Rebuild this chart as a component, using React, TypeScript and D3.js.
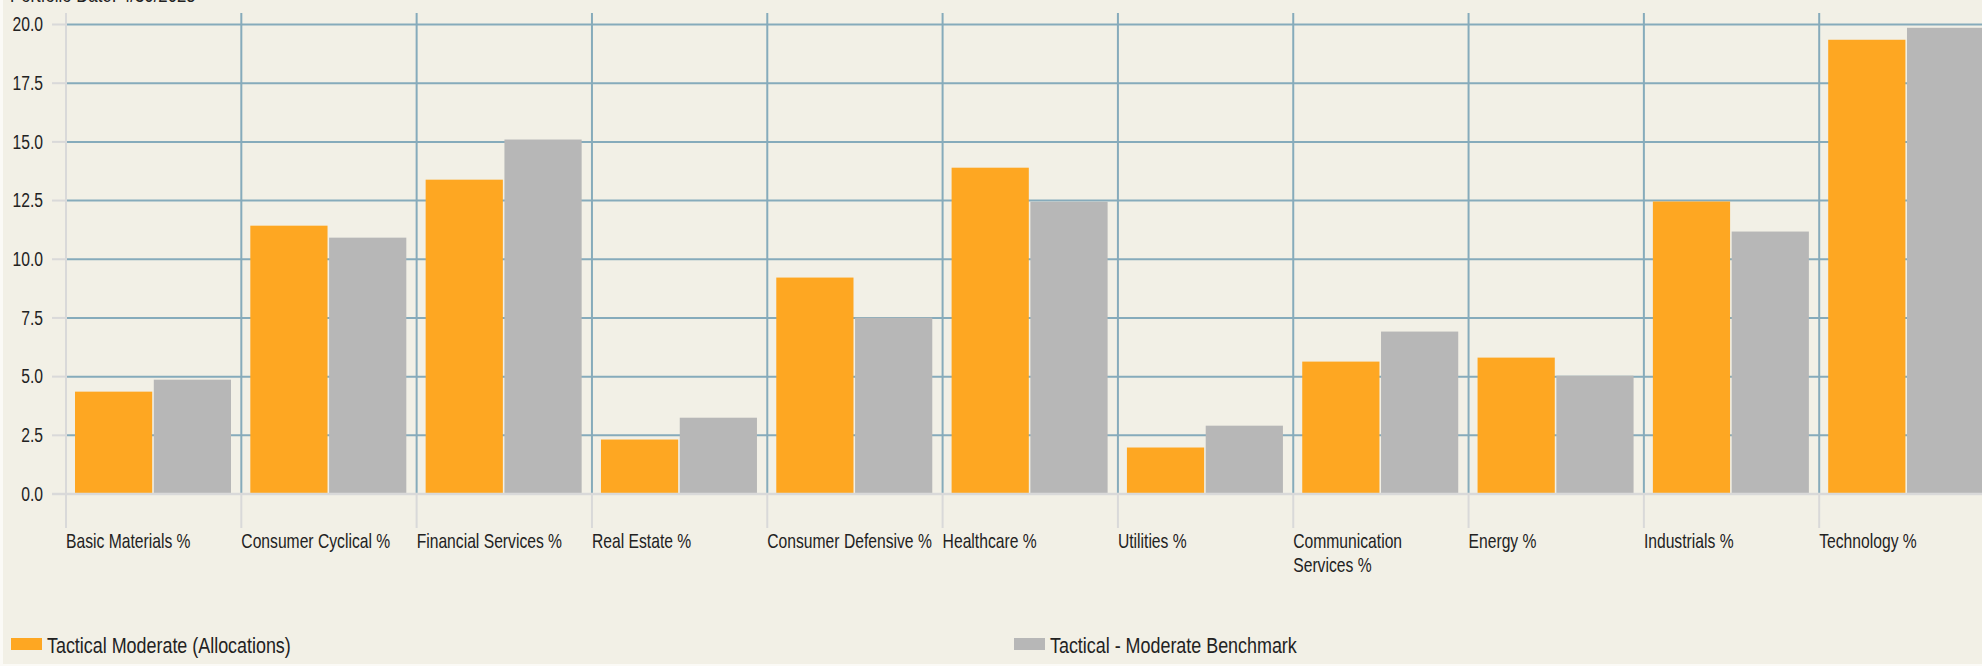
import React from "react";
import * as d3 from "d3";

const categories = [
  "Basic Materials %",
  "Consumer Cyclical %",
  "Financial Services %",
  "Real Estate %",
  "Consumer Defensive %",
  "Healthcare %",
  "Utilities %",
  "Communication Services %",
  "Energy %",
  "Industrials %",
  "Technology %",
];
const seriesNames = ["Tactical Moderate (Allocations)", "Tactical - Moderate Benchmark"];
const allocations = [4.36, 11.43, 13.39, 2.32, 9.22, 13.9, 1.98, 5.64, 5.81, 12.46, 19.35];
const benchmark = [4.87, 10.92, 15.1, 3.25, 7.51, 12.45, 2.91, 6.92, 5.04, 11.18, 19.86];
const yTicks = [0, 2.5, 5, 7.5, 10, 12.5, 15, 17.5, 20];
const subtitle = "Portfolio Date: 4/30/2025";

const W = 1982;
const H = 666;
const FONT = "'Liberation Sans', Arial, sans-serif";
const SX = 0.8;
const colors = ["#fea722", "#b7b7b7"];
const GRID = "#86abbb";
const AXIS = "#d9d9d9";
const BG = "#f2f0e6";
const TEXT = "#222222";

function NText(props: {
  x: number;
  y: number;
  size: number;
  anchor?: "start" | "end";
  children: React.ReactNode;
}) {
  return (
    <g transform={`translate(${props.x},${props.y}) scale(${SX},1)`}>
      <text x={0} y={0} dy="0.35em" fontSize={props.size} fill={TEXT} textAnchor={props.anchor || "start"}>
        {props.children}
      </text>
    </g>
  );
}

export default function App() {
  const x0 = d3.scaleBand<string>().domain(categories).range([66, 66 + 11 * 175.32]).padding(0);
  const x1 = d3.scaleBand<string>().domain(seriesNames).range([9, 165]).paddingInner(0.02);
  const y = d3.scaleLinear().domain([0, 20]).range([494, 24.5]);
  const values = [allocations, benchmark];
  const top = 13;
  const base = y(0);

  const wrap = (label: string): string[] =>
    label === "Communication Services %" ? ["Communication", "Services %"] : [label];

  return (
    <svg
      width={W}
      height={H}
      style={{ position: "absolute", left: 0, top: 0, display: "block" }}
      fontFamily={FONT}
    >
      <rect x={0} y={0} width={W} height={H} fill="#fbfaf6" />
      <rect x={3} y={0} width={W - 3} height={H - 2} fill={BG} />
      <g transform={`translate(10,2) scale(${SX},1)`}>
        <text x={0} y={0} fontSize={21} fill={TEXT}>{subtitle}</text>
      </g>

      {/* horizontal gridlines */}
      {yTicks.map((t) => (
        <g key={"h" + t}>
          <line x1={52} x2={66} y1={y(t)} y2={y(t)} stroke={AXIS} strokeWidth={2} />
          {t !== 0 && (
            <line x1={66} x2={W} y1={y(t)} y2={y(t)} stroke={GRID} strokeWidth={2} />
          )}
          <NText x={43} y={y(t)} size={19.6} anchor="end">
            {t.toFixed(1)}
          </NText>
        </g>
      ))}

      {/* vertical gridlines */}
      {categories.map((c, i) => {
        const xx = x0(c)!;
        return (
          <g key={"v" + c}>
            <line x1={xx} x2={xx} y1={top} y2={base} stroke={i === 0 ? AXIS : GRID} strokeWidth={2} />
            <line x1={xx} x2={xx} y1={base} y2={528} stroke={AXIS} strokeWidth={2} />
          </g>
        );
      })}

      {/* bars */}
      {categories.map((c, i) => (
        <g key={"b" + c} transform={`translate(${x0(c)},0)`}>
          {seriesNames.map((s, si) => (
            <rect
              key={s}
              x={x1(s)}
              y={y(values[si][i])}
              width={x1.bandwidth()}
              height={base - y(values[si][i])}
              fill={colors[si]}
            />
          ))}
        </g>
      ))}

      {/* baseline */}
      <line x1={52} x2={W} y1={base} y2={base} stroke={AXIS} strokeWidth={2.5} />

      {/* x labels */}
      {categories.map((c) =>
        wrap(c).map((line, li) => (
          <NText key={"l" + c + li} x={x0(c)!} y={541 + li * 24} size={19.6}>
            {line}
          </NText>
        ))
      )}

      {/* legend */}
      {seriesNames.map((s, si) => {
        const lx = si === 0 ? 11 : 1014;
        return (
          <g key={"lg" + s}>
            <rect x={lx} y={638} width={31} height={12} fill={colors[si]} />
            <NText x={lx + 36} y={645} size={22.4}>
              {s}
            </NText>
          </g>
        );
      })}
    </svg>
  );
}
